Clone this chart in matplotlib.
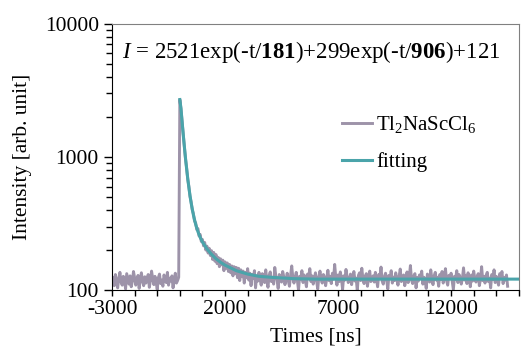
import matplotlib
matplotlib.use('Agg')
import matplotlib.pyplot as plt
import numpy as np
from matplotlib.ticker import MultipleLocator, LogLocator, NullFormatter, FixedLocator

step = 50
pre_start = -3000
pre_vals = [112, 125, 108, 131, 118, 104, 122, 136, 115, 109, 127, 119, 102, 133, 121, 111, 128, 106, 117, 138,
            124, 109, 114, 129, 103, 121, 135, 116, 108, 126, 113, 120, 131, 105, 118, 139, 122, 110, 127, 115,
            101, 124, 132, 112, 119, 107, 130, 121, 114, 136, 109, 123, 117, 128, 104, 120, 134, 113, 118, 125]
peak_time = 0
peak_val = 2700
decay_start = 50
decay_vals = [2300, 1850, 1460, 1210, 970, 830, 680, 600, 505, 460,
              400, 375, 330, 320, 285, 290, 255, 262, 232, 240,
              215, 228, 200, 214, 190, 206, 182, 198, 170, 192,
              165, 185, 158, 176, 150, 172, 155, 168, 140, 163,
              146, 160, 138, 156, 135, 152, 128, 150, 133, 148,
              124, 146, 118, 142, 126, 139, 113, 136, 124, 145,
              119, 134, 108, 131, 122, 140, 104, 128, 117, 136,
              121, 109, 133, 126, 114, 142, 118, 105, 129, 137, 116, 124, 111, 148, 127, 119, 103, 131, 122, 115,
              138, 126, 110, 120, 134, 117, 107, 129, 152, 123, 113, 125, 136, 118, 100, 127, 121, 140, 114, 130,
              119, 106, 132, 124, 145, 116, 128, 111, 122, 135, 117, 102, 126, 139, 120, 113, 131, 125, 108, 123,
              141, 118, 127, 112, 134, 121, 156, 124, 109, 130, 116, 137, 122, 101, 128, 119, 143, 126, 114, 120,
              132, 110, 125, 138, 117, 123, 99, 129, 135, 118, 146, 121, 112, 127, 133, 107, 124, 139, 116, 122,
              128, 115, 136, 120, 106, 131, 124, 149, 117, 111, 126, 134, 119, 102, 129, 122, 140, 113, 125, 118,
              135, 121, 109, 127, 144, 116, 123, 130, 108, 120, 137, 114, 126, 153, 119, 112, 128, 133, 104, 124,
              117, 130, 122, 139, 111, 125, 118, 103, 132, 127, 115, 142, 121, 110, 128, 136, 119, 124, 107, 131,
              120, 138, 113, 126, 145, 118, 109, 129, 123, 134, 116, 101, 127, 121, 140, 114, 131, 125, 111, 122,
              147, 119, 128, 112, 135, 124, 106, 130, 117, 139, 122, 115, 126, 133, 108, 121, 150, 118, 127, 113,
              129, 136, 116, 123, 104, 131, 120, 142, 114, 127, 118, 109, 133, 125, 138, 112, 124, 119, 130, 107]

# fitted curve
fit_times = [0, 50, 100, 150, 200, 250, 300, 350, 400, 450, 500, 600, 700, 800, 900, 1000,
             1200, 1400, 1600, 1800, 2000, 2500, 3000, 3500, 4000, 5000, 6000, 8000, 10000, 12000, 15000]
fit_vals = [2700, 2317, 1841, 1475, 1196, 982, 817, 689, 590, 513, 452, 367, 312, 275, 249, 230,
            204, 186, 172, 162, 154, 140, 132, 127, 125, 122, 121, 121, 121, 121, 121]

eq_text = r'$\mathit{I}$ = 2521exp(-t/$\mathbf{181}$)+299exp(-t/$\mathbf{906}$)+121'

data_t = np.concatenate([pre_start + step * np.arange(len(pre_vals)),
                         [peak_time],
                         decay_start + step * np.arange(len(decay_vals))])
data_y = np.array(pre_vals + [peak_val] + decay_vals)

plt.rcParams['font.family'] = ['Liberation Serif', 'DejaVu Serif']
plt.rcParams['mathtext.fontset'] = 'custom'
plt.rcParams['mathtext.rm'] = 'Liberation Serif'
plt.rcParams['mathtext.it'] = 'Liberation Serif:italic'
plt.rcParams['mathtext.bf'] = 'Liberation Serif:bold'
plt.rcParams['axes.unicode_minus'] = False

fig = plt.figure(figsize=(5.21, 3.56), dpi=100)
ax = fig.add_axes([0.215, 0.185, 0.781, 0.748])

ax.plot(data_t, data_y, color='#9d93a9', lw=2.1, label='Tl$_2$NaScCl$_6$')
ax.plot(fit_times, fit_vals, color='#4aa4aa', lw=2.2, label='fitting')

ax.set_yscale('log')
ax.set_xlim(-3000, 15000)
ax.set_ylim(100, 10000)
ax.xaxis.set_major_locator(FixedLocator([-3000, 2000, 7000, 12000]))
ax.xaxis.set_minor_locator(MultipleLocator(1000))
ax.yaxis.set_major_locator(LogLocator(base=10))
ax.yaxis.set_minor_locator(LogLocator(base=10, subs=np.arange(2, 10)))
ax.yaxis.set_minor_formatter(NullFormatter())
ax.yaxis.set_major_formatter(matplotlib.ticker.FuncFormatter(lambda v, p: f'{v:.0f}'))

ax.tick_params(axis='both', which='major', labelsize=15.5, direction='out', length=6, width=1, color='black')
ax.tick_params(axis='x', which='major', length=4, pad=3)
ax.tick_params(axis='both', which='minor', direction='out', length=4, width=1)
for s in ['top', 'right']:
    ax.spines[s].set_color('#808080')
ax.spines['left'].set_color('black')
ax.spines['bottom'].set_color('black')

ax.set_xlabel('Times [ns]', fontsize=15.5, labelpad=6)
ax.set_ylabel('Intensity [arb. unit]', fontsize=15.5, labelpad=9)

ax.text(0.024, 0.895, eq_text, transform=ax.transAxes, fontsize=16.5, va='center', ha='left')

ax.legend(loc='upper left', bbox_to_anchor=(0.565, 0.66), frameon=False, fontsize=15,
          borderpad=0, borderaxespad=0,
          handlelength=1.45, handletextpad=0.2, labelspacing=0.8)

fig.savefig('out.png', dpi=100)
